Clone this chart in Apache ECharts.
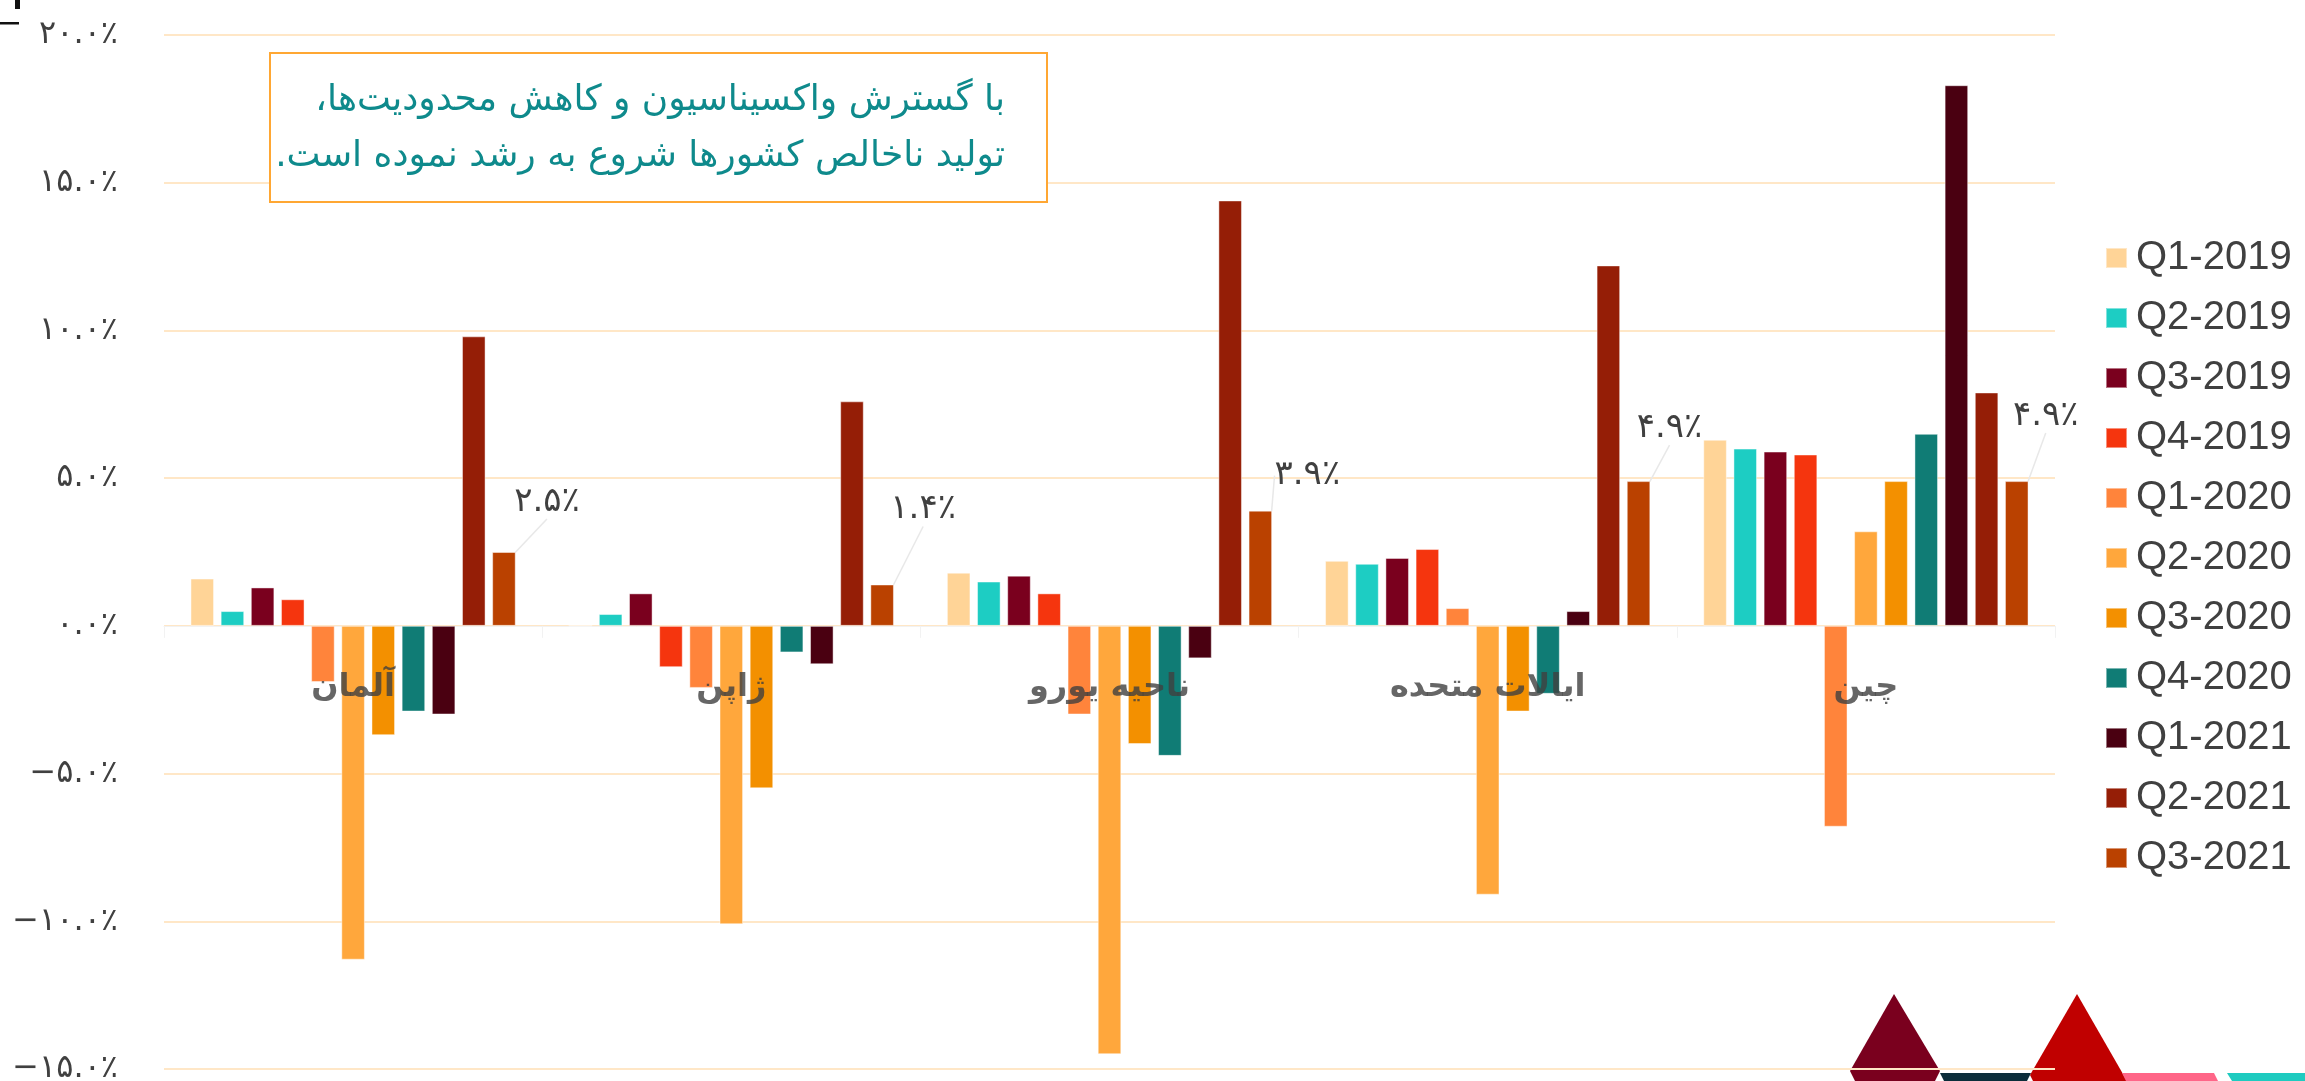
<!DOCTYPE html>
<html>
<head>
<meta charset="utf-8">
<script src="https://cdn.jsdelivr.net/npm/echarts@6/dist/echarts.min.js"></script>
<style>
html, body { margin: 0; padding: 0; background: #fff; }
#main { width: 2305px; height: 1081px; }
</style>
</head>
<body>
<div id="main"></div>
<script>
// کشورها (محور افقی)
var categories = ['آلمان', 'ژاپن', 'ناحیه یورو', 'ایالات متحده', 'چین'];
var quarters = ['Q1-2019', 'Q2-2019', 'Q3-2019', 'Q4-2019', 'Q1-2020', 'Q2-2020',
                'Q3-2020', 'Q4-2020', 'Q1-2021', 'Q2-2021', 'Q3-2021'];

// رشد تولید ناخالص (درصد) به ترتیب کشورها
var q1_2019 = [1.6, 0.0, 1.8, 2.2, 6.3];
var q2_2019 = [0.5, 0.4, 1.5, 2.1, 6.0];
var q3_2019 = [1.3, 1.1, 1.7, 2.3, 5.9];
var q4_2019 = [0.9, -1.4, 1.1, 2.6, 5.8];
var q1_2020 = [-1.9, -2.1, -3.0, 0.6, -6.8];
var q2_2020 = [-11.3, -10.1, -14.5, -9.1, 3.2];
var q3_2020 = [-3.7, -5.5, -4.0, -2.9, 4.9];
var q4_2020 = [-2.9, -0.9, -4.4, -2.3, 6.5];
var q1_2021 = [-3.0, -1.3, -1.1, 0.5, 18.3];
var q2_2021 = [9.8, 7.6, 14.4, 12.2, 7.9];
var q3_2021 = [2.5, 1.4, 3.9, 4.9, 4.9];

var yMin = -15, yMax = 20, yStep = 5;

var seriesData = [q1_2019, q2_2019, q3_2019, q4_2019, q1_2020, q2_2020,
                  q3_2020, q4_2020, q1_2021, q2_2021, q3_2021];
var colors = ['#FFD497', '#1DCDC3', '#7A001E', '#F5350E', '#FF843B', '#FFA73C',
              '#F39000', '#107C75', '#4A0011', '#951E06', '#BA4100'];

// جابجایی برچسب‌های فصل آخر نسبت به بالای ستون
var labelDx = [43, 41, 47, 31, 29];
var labelDy = [-28, -53, -13, -31, -43];

var faDigits = '۰۱۲۳۴۵۶۷۸۹';
function toFa(v) {
    var s = Math.abs(v).toFixed(1).replace(/[0-9]/g, function (d) { return faDigits[+d]; });
    return (v < 0 ? '\u2212' : '') + s + '٪';
}

var faFont = 'DejaVu Sans';
var textGray = '#404040';

var series = [];
for (var i = 0; i < quarters.length; i++) {
    var item = {
        name: quarters[i],
        type: 'bar',
        data: seriesData[i],
        barGap: '28%',
        barCategoryGap: '14%',
        itemStyle: { color: colors[i], borderColor: 'rgba(255,255,255,0.45)', borderWidth: 1 }
    };
    if (i === quarters.length - 1) {
        item.label = {
            show: true,
            position: 'top',
            distance: 5,
            fontFamily: faFont,
            fontSize: 34,
            color: textGray,
            formatter: function (p) { return toFa(p.value); }
        };
        item.labelLine = { show: true, lineStyle: { color: '#E8E8E8', width: 1.5 } };
        item.labelLayout = function (p) {
            return { dx: labelDx[p.dataIndex], dy: labelDy[p.dataIndex] };
        };
    }
    series.push(item);
}

// نام کشورها روی خط صفر، بالای ستون‌ها
series.push({
    name: 'categoryNames',
    type: 'scatter',
    data: categories.map(function () { return 0; }),
    symbolSize: 0,
    silent: true,
    z: 10,
    label: {
        show: true,
        position: 'bottom',
        distance: 46,
        fontFamily: faFont,
        fontWeight: 'bold',
        fontSize: 32,
        color: textGray,
        formatter: function (p) { return categories[p.dataIndex]; }
    }
});

var option = {
    backgroundColor: '#fff',
    animation: false,
    color: colors,
    grid: { left: 164, right: 250, top: 35, bottom: 12, outerBoundsMode: 'none' },
    legend: {
        orient: 'vertical',
        left: 2100,
        top: 233,
        itemWidth: 21,
        itemHeight: 20,
        itemGap: 20,
        icon: 'rect',
        data: quarters,
        textStyle: {
            fontFamily: 'Liberation Sans',
            fontSize: 40,
            lineHeight: 40,
            color: textGray,
            padding: [0, 0, 0, 4]
        }
    },
    xAxis: {
        type: 'category',
        data: categories,
        axisLine: { onZero: true, lineStyle: { color: '#F2F2F2', width: 1 } },
        axisTick: { show: true, length: 12, lineStyle: { color: '#F2F2F2' } },
        axisLabel: { show: false }
    },
    yAxis: {
        type: 'value',
        min: yMin,
        max: yMax,
        interval: yStep,
        axisLine: { show: false },
        axisTick: { show: false },
        splitLine: { lineStyle: { color: '#FFE7C7', width: 2 } },
        axisLabel: {
            margin: 46,
            fontFamily: faFont,
            fontSize: 32,
            color: textGray,
            formatter: function (v) { return toFa(v); }
        }
    },
    graphic: [
        // کادر توضیح
        {
            type: 'rect', z: 20,
            shape: { x: 270, y: 53, width: 777, height: 149 },
            style: { fill: '#fff', stroke: '#FFA733', lineWidth: 2 }
        },
        {
            type: 'text', z: 21, x: 1005, y: 101,
            style: {
                text: 'با گسترش واکسیناسیون و کاهش محدودیت‌ها،\u200F',
                align: 'right', verticalAlign: 'middle',
                fontFamily: faFont, fontSize: 36, fill: '#0E8A8C'
            }
        },
        {
            type: 'text', z: 21, x: 1005, y: 157,
            style: {
                text: 'تولید ناخالص کشورها شروع به رشد نموده است.\u200F',
                align: 'right', verticalAlign: 'middle',
                fontFamily: faFont, fontSize: 36, fill: '#0E8A8C'
            }
        },
        // علامت بریده گوشه بالا
        { type: 'rect', z: 20, shape: { x: 0, y: 22, width: 19, height: 2.5 }, style: { fill: '#111' } },
        { type: 'rect', z: 20, shape: { x: 15, y: 0, width: 5, height: 9 }, style: { fill: '#111' } },
        // تزئینات پایین
        {
            type: 'polygon', z: -1,
            shape: { points: [[1894, 994], [1850, 1071], [1855, 1081], [1935, 1081], [1940, 1071]] },
            style: { fill: '#7A001E' }
        },
        {
            type: 'polygon', z: -1,
            shape: { points: [[1940, 1073], [2031, 1073], [2027, 1081], [1944, 1081]] },
            style: { fill: '#0B2D3A' }
        },
        {
            type: 'polygon', z: -1,
            shape: { points: [[2077, 994], [2030, 1075], [2033, 1081], [2127, 1081]] },
            style: { fill: '#C00000' }
        },
        {
            type: 'polygon', z: -1,
            shape: { points: [[2122, 1073], [2214, 1073], [2218, 1081], [2126, 1081]] },
            style: { fill: '#FF6688' }
        },
        {
            type: 'polygon', z: -1,
            shape: { points: [[2227, 1073], [2305, 1073], [2305, 1081], [2232, 1081]] },
            style: { fill: '#1ECBC0' }
        }
    ],
    series: series
};

var myChart = echarts.init(document.getElementById('main'));
myChart.setOption(option);
</script>
</body>
</html>
